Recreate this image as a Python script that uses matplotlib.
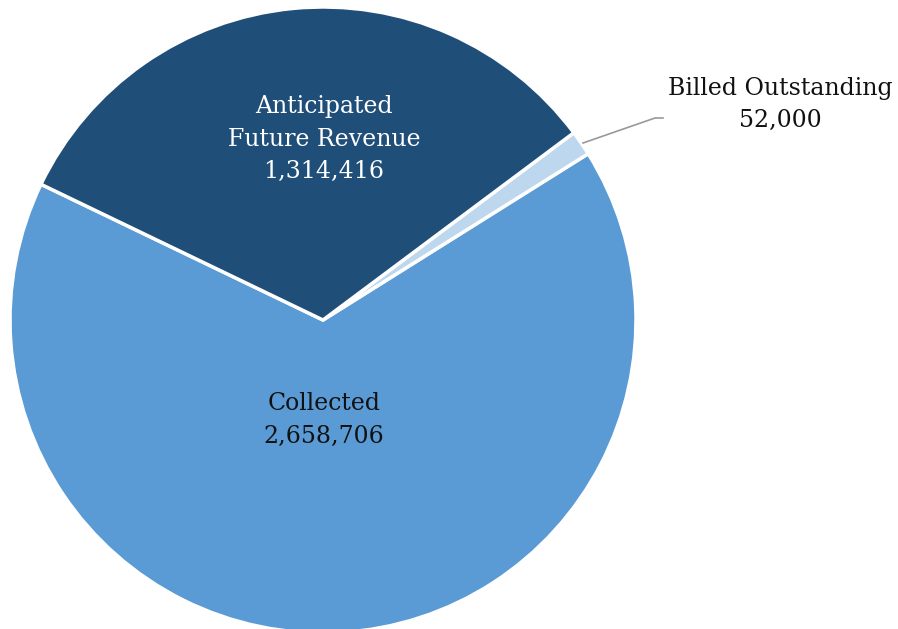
import matplotlib
matplotlib.use("Agg")
import matplotlib.pyplot as plt

# slice data (counter-clockwise order starting at the left boundary)
labels = ["Collected", "Billed Outstanding", "Anticipated\nFuture Revenue"]
values = [2658706, 52000, 1314416]
colors = ["#5B9BD5", "#BDD7EE", "#1F4E79"]

W, H = 898, 629
fig = plt.figure(figsize=(W / 100, H / 100), dpi=100)
ax = fig.add_axes([0, 0, 1, 1])

cx, cy, r = 323, H - 320, 313
ax.pie(values, colors=colors, startangle=154.3, counterclock=True,
       center=(cx, cy), radius=r, frame=True,
       wedgeprops=dict(edgecolor="white", linewidth=2.5))
ax.set_xlim(0, W)
ax.set_ylim(0, H)
ax.set_aspect("equal")
ax.set_axis_off()

font = dict(family="DejaVu Serif", fontsize=17, ha="center", va="center",
            linespacing=1.5)
ax.text(324, H - 139, f"{labels[2]}\n{values[2]:,}", color="white", **font)
ax.text(324, H - 420, f"{labels[0]}\n{values[0]:,}", color="#111111", **font)
ax.text(780, H - 104, f"{labels[1]}\n{values[1]:,}", color="#111111", **font)

# leader line for the small slice
ax.plot([583, 655, 663], [H - 143, H - 118, H - 118], color="#999999", lw=1.2)

fig.savefig("out.png", dpi=100)
